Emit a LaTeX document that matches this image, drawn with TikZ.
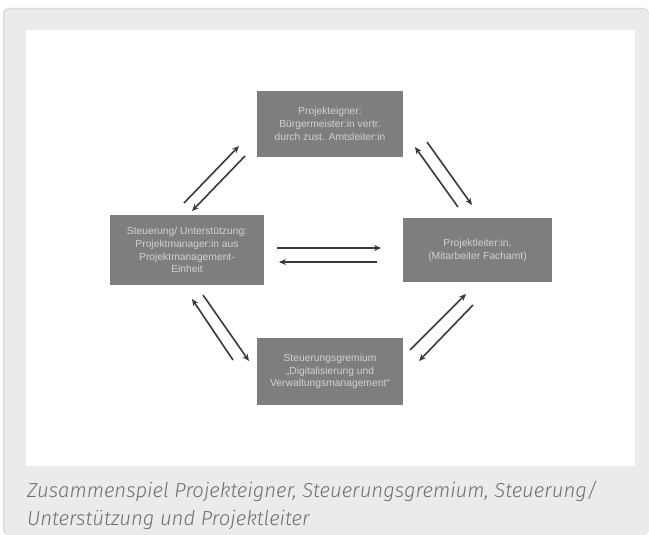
\documentclass[tikz,border=0pt]{standalone}
\usepackage{fontspec}
\setmainfont{Liberation Sans}
\IfFontExistsTF{Fira Sans Light Italic}
  {\newfontfamily\capfont{Fira Sans Light}[ItalicFont={Fira Sans Light Italic}]}
  {\newfontfamily\capfont{Fira Sans}}
\usetikzlibrary{arrows.meta}
\definecolor{panelgray}{HTML}{EBEBEB}
\definecolor{boxgray}{HTML}{7E7E7E}
\definecolor{boxtext}{HTML}{D2D2D2}
\definecolor{arrowgray}{HTML}{3A3A3A}
\definecolor{captext}{HTML}{707070}
\tikzset{
  rolebox/.style={fill=boxgray, draw=none, text=boxtext, align=center,
    font=\fontsize{10.3}{12.8}\selectfont, inner sep=0pt},
  flow/.style={draw=arrowgray, line width=1.6pt,
    -{Stealth[length=7pt,width=6pt]}},
}
\begin{document}
\begin{tikzpicture}[x=1pt,y=-1pt]
\useasboundingbox (0,0) rectangle (649,535);
\fill[white] (0,0) rectangle (649,535);
% outer caption frame with a soft edge
\fill[black!14, rounded corners=5pt] (3,8) -- (649,8) -- (649,535) -- (3,535) -- cycle;
\fill[panelgray, rounded corners=5pt] (4.5,9.5) -- (649,9.5) -- (649,535) -- (4.5,535) -- cycle;
% white image area
\fill[white] (26,30) rectangle (635,466);

% role boxes
\node[rolebox, minimum width=146, minimum height=66] (owner) at (330,124)
  {Projekteigner:\\Bürgermeister:in vertr.\\durch zust. Amtsleiter:in};
\node[rolebox, minimum width=154, minimum height=70] (support) at (187,250)
  {Steuerung/ Unterstützung:\\Projektmanager:in aus\\Projektmanagement-\\Einheit};
\node[rolebox, minimum width=149, minimum height=64] (lead) at (477.5,250)
  {Projektleiter:in,\\(Mitarbeiter Fachamt)};
\node[rolebox, minimum width=146, minimum height=67] (board) at (330,371.5)
  {Steuerungsgremium\\„Digitalisierung und\\Verwaltungsmanagement“};

% connector end points
\coordinate (a1s) at (184,203); \coordinate (a1e) at (239,146);
\coordinate (a2s) at (245,156); \coordinate (a2e) at (192,211);
\coordinate (b1s) at (458,207); \coordinate (b1e) at (415,147);
\coordinate (b2s) at (427,142); \coordinate (b2e) at (472,205);
\coordinate (c1s) at (277,248); \coordinate (c1e) at (381,248);
\coordinate (c2s) at (377,262); \coordinate (c2e) at (279,262);
\coordinate (d1s) at (233,360); \coordinate (d1e) at (192,299);
\coordinate (d2s) at (203,295); \coordinate (d2e) at (249,361);
\coordinate (e1s) at (410,350); \coordinate (e1e) at (466,294);
\coordinate (e2s) at (473,305); \coordinate (e2e) at (419,361);

% paired flows between the boxes
\draw[flow] (a1s) -- (a1e);
\draw[flow] (a2s) -- (a2e);
\draw[flow] (b1s) -- (b1e);
\draw[flow] (b2s) -- (b2e);
\draw[flow] (c1s) -- (c1e);
\draw[flow] (c2s) -- (c2e);
\draw[flow] (d1s) -- (d1e);
\draw[flow] (d2s) -- (d2e);
\draw[flow] (e1s) -- (e1e);
\draw[flow] (e2s) -- (e2e);

% caption
\node[anchor=base west, inner sep=0pt, text=captext,
  font=\capfont\itshape\fontsize{20.3}{28}\selectfont, align=left] (cap) at (27,525)
  {Zusammenspiel Projekteigner, Steuerungsgremium, Steuerung/\\Unterstützung und Projektleiter};
\end{tikzpicture}
\end{document}
